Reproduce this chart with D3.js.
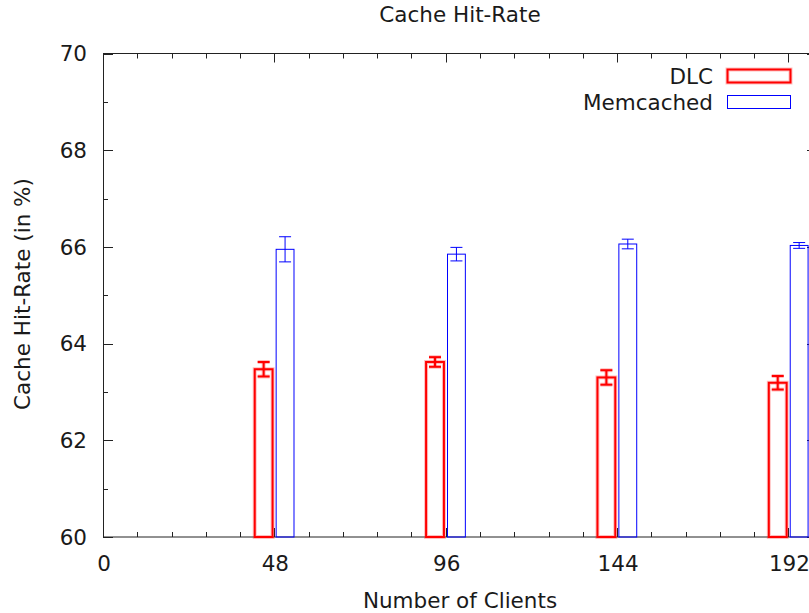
<!DOCTYPE html>
<html>
<head>
<meta charset="utf-8">
<script src="https://cdn.jsdelivr.net/npm/d3@7"></script>
<style>
  html, body { margin: 0; padding: 0; background: #fff; }
  svg { display: block; }
  text { font-family: "DejaVu Sans", sans-serif; fill: #1a1a1a; }
</style>
</head>
<body>
<svg id="chart" width="809" height="613"></svg>
<script>
// Client counts on the x axis
const clients = [48, 96, 144, 192];
// Mean hit-rate (%) and standard error per configuration
const dlc = [63.47, 63.62, 63.30, 63.19];
const dlcErr = [0.15, 0.10, 0.15, 0.14];
const memcached = [65.95, 65.85, 66.06, 66.03];
const memcachedErr = [0.26, 0.14, 0.10, 0.06];
// Axis ticks
const xTicks = [0, 48, 96, 144, 192];
const yTicks = [60, 62, 64, 66, 68, 70];
const seriesNames = ["DLC", "Memcached"];

const svg = d3.select("#chart");
const plotL = 103, plotR = 817, plotT = 53.5, plotB = 537;

const x = d3.scaleLinear().domain([0, 200]).range([plotL, plotR]);
const y = d3.scaleLinear().domain([60, 70]).range([plotB, plotT]);

const fs = 21.5;
const axisColor = "#222";

// Border frame
svg.append("rect")
  .attr("x", plotL + 0.5).attr("y", plotT).attr("width", plotR - plotL).attr("height", plotB - plotT)
  .attr("fill", "none").attr("stroke", axisColor).attr("stroke-width", 1);

// Tick marks on all four sides (major + minor)
const tg = svg.append("g").attr("stroke", axisColor).attr("stroke-width", 1);
const xMinor = d3.range(0, 200.01, 9.6).filter(v => !xTicks.some(t => Math.abs(t - v) < 1e-6));
const yMinor = d3.range(61, 70, 2);
function vTick(px, len) {
  const xx = Math.round(px) + 0.5;
  tg.append("line").attr("x1", xx).attr("x2", xx).attr("y1", plotB).attr("y2", plotB - len);
  tg.append("line").attr("x1", xx).attr("x2", xx).attr("y1", plotT).attr("y2", plotT + len);
}
function hTick(py, len) {
  const yy = Math.round(py) + 0.5;
  tg.append("line").attr("x1", plotL).attr("x2", plotL + len).attr("y1", yy).attr("y2", yy);
  tg.append("line").attr("x1", plotR).attr("x2", plotR - len).attr("y1", yy).attr("y2", yy);
}
xTicks.forEach(t => vTick(x(t), 9));
xMinor.forEach(t => vTick(x(t), 5));
yTicks.forEach(t => hTick(y(t), 10));
yMinor.forEach(t => hTick(y(t), 5));

// Tick labels
svg.append("g").selectAll("text").data(yTicks).join("text")
  .attr("x", 87).attr("y", d => y(d)).attr("dy", "0.36em")
  .attr("text-anchor", "end").attr("font-size", fs).text(d => d);
svg.append("g").selectAll("text").data(xTicks).join("text")
  .attr("x", d => x(d) + 1).attr("y", 570.5)
  .attr("text-anchor", "middle").attr("font-size", fs).text(d => d);

// Titles
svg.append("text").attr("x", (plotL + plotR) / 2).attr("y", 22)
  .attr("text-anchor", "middle").attr("font-size", fs).text("Cache Hit-Rate");
svg.append("text").attr("x", (plotL + plotR) / 2).attr("y", 608)
  .attr("text-anchor", "middle").attr("font-size", fs).text("Number of Clients");
svg.append("text").attr("transform", "translate(30," + 294 + ") rotate(-90)")
  .attr("text-anchor", "middle").attr("font-size", fs).text("Cache Hit-Rate (in %)");

// Bars with error bars
const boxW = 5;       // bar width in x units
const offset = 3;     // center shift of each series from the client value
const capHalf = 6;
const series = [
  { name: seriesNames[0], vals: dlc, errs: dlcErr, color: "#ff0000", width: 2, shift: -offset, halo: true },
  { name: seriesNames[1], vals: memcached, errs: memcachedErr, color: "#0000ff", width: 1, shift: offset, halo: false }
];

series.forEach(s => {
  const g = svg.append("g");
  const layers = s.halo ? [{ w: s.width + 2, o: 0.25 }, { w: s.width, o: 1 }] : [{ w: s.width, o: 1 }];
  layers.forEach(L => {
    const lg = g.append("g").attr("stroke", s.color).attr("stroke-width", L.w)
      .attr("stroke-opacity", L.o).attr("fill", "none");
    clients.forEach((c, i) => {
      const cx = x(c + s.shift);
      const x0 = x(c + s.shift - boxW / 2), x1 = x(c + s.shift + boxW / 2);
      const yv = y(s.vals[i]);
      lg.append("rect").attr("x", x0).attr("y", yv)
        .attr("width", x1 - x0).attr("height", y(60) - yv);
      const yHi = y(s.vals[i] + s.errs[i]), yLo = y(s.vals[i] - s.errs[i]);
      lg.append("line").attr("x1", cx).attr("x2", cx).attr("y1", yHi).attr("y2", yLo);
      lg.append("line").attr("x1", cx - capHalf).attr("x2", cx + capHalf).attr("y1", yHi).attr("y2", yHi);
      lg.append("line").attr("x1", cx - capHalf).attr("x2", cx + capHalf).attr("y1", yLo).attr("y2", yLo);
    });
  });
});

// Legend
const legendY = [76, 102];
series.forEach((s, i) => {
  svg.append("text").attr("x", 713).attr("y", legendY[i]).attr("dy", "0.36em")
    .attr("text-anchor", "end").attr("font-size", fs).text(s.name);
  if (s.halo) {
    svg.append("rect").attr("x", 727.5).attr("y", legendY[i] - 6.5).attr("width", 63).attr("height", 13)
      .attr("fill", "none").attr("stroke", s.color).attr("stroke-width", s.width + 2).attr("stroke-opacity", 0.25);
  }
  svg.append("rect").attr("x", 727.5).attr("y", legendY[i] - 6.5).attr("width", 63).attr("height", 13)
    .attr("fill", "none").attr("stroke", s.color).attr("stroke-width", s.width);
});
</script>
</body>
</html>
